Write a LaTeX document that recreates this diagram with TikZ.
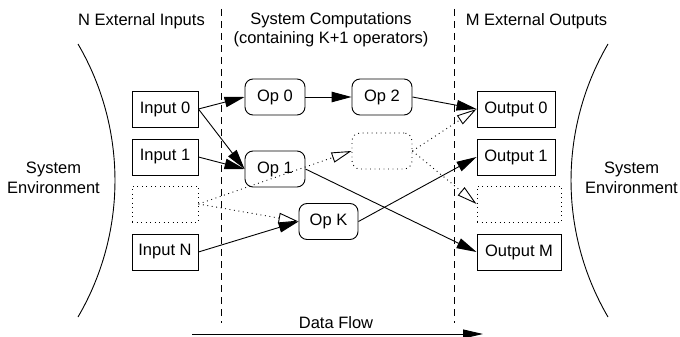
\documentclass[tikz,border=0pt]{standalone}
\usepackage{fontspec}
\setmainfont{Liberation Sans}
\usetikzlibrary{arrows.meta}
\begin{document}
\begin{tikzpicture}[x=1pt,y=-1pt,
  txt/.style={font=\fontsize{16.5}{19.5}\selectfont, inner sep=0pt, align=center},
  sqbox/.style={txt, draw, line width=0.9pt, minimum height=36pt},
  opbox/.style={txt, draw, line width=0.9pt, rounded corners=8pt, minimum width=60pt, minimum height=36pt},
  dotbox/.style={draw, line width=0.9pt, dash pattern=on 0.9pt off 3.6pt, minimum height=36pt},
  flow/.style={line width=0.9pt, -{Triangle[length=20pt,width=10.5pt]}},
  ghost/.style={line width=0.9pt, dash pattern=on 0.9pt off 3.6pt, -{Triangle[open,length=20pt,width=10.5pt,line width=0.9pt,fill=white]}},
  divider/.style={line width=0.8pt, dash pattern=on 7pt off 5pt},
  env/.style={line width=0.9pt}]
\useasboundingbox (0,0) rectangle (680,337);

% dividers
\coordinate (d1t) at (221,9);
\coordinate (d1b) at (221,323);
\coordinate (d2t) at (454,9);
\coordinate (d2b) at (454,323);
\draw[divider] (d1t) -- (d1b);
\draw[divider] (d2t) -- (d2b);

% environment arcs
\coordinate (la) at (78,44);
\coordinate (lb) at (78,317);
\coordinate (ra) at (608,44);
\coordinate (rb) at (608,317);
\draw[env] (la) .. controls (127.3,128.3) and (127.3,232.7) .. (lb);
\draw[env] (ra) .. controls (558.7,128.3) and (558.7,232.7) .. (rb);

% headings
\node[txt] (hin) at (141.5,21) {N External Inputs};
\node[txt] (hsys) at (331,29.5) {System Computations\\(containing K+1 operators)};
\node[txt] (hout) at (536.5,21) {M External Outputs};
\node[txt] (envl) at (53.5,178) {System\\Environment};
\node[txt] (envr) at (631.5,178) {System\\Environment};

% inputs
\node[sqbox, minimum width=66pt] (in0) at (165,109) {Input 0};
\node[sqbox, minimum width=66pt] (in1) at (165,157) {Input 1};
\node[dotbox, minimum width=66pt] (inx) at (165,204) {};
\node[sqbox, minimum width=66pt] (inN) at (165,252) {Input N};

% operators
\node[opbox] (op0) at (275,97) {Op 0};
\node[opbox] (op2) at (382,97) {Op 2};
\node[opbox] (op1) at (275,169) {Op 1};
\node[opbox, minimum width=59pt] (opK) at (328.5,221.5) {Op K};
\node[dotbox, rounded corners=8pt, minimum width=60pt] (opx) at (382,151) {};

% outputs
\node[sqbox, minimum width=78pt] (out0) at (516,109) {Output 0};
\node[sqbox, minimum width=78pt] (out1) at (516,157) {Output 1};
\node[dotbox, minimum width=84pt] (outx) at (519,204) {};
\node[sqbox, minimum width=84pt] (outM) at (519,252) {Output M};

% solid flows
\draw[flow] (in0.east) -- (op0.west);
\draw[flow] (in0.east) -- (op1.west);
\draw[flow] (in1.east) -- (op1.west);
\draw[flow] (op0.east) -- (op2.west);
\draw[flow] (op2.east) -- (out0.west);
\draw[flow] (inN.east) -- (opK.west);
\draw[flow] (opK.east) -- (out1.west);
\draw[flow] (op1.east) -- (outM.west);

% dotted flows
\draw[ghost] (inx.east) -- (opx.west);
\draw[ghost] (inx.east) -- (opK.west);
\draw[ghost] (opx.east) -- (out0.west);
\draw[ghost] (opx.east) -- (outx.west);

% data flow
\node[txt] (dflabel) at (336,323) {Data Flow};
\coordinate (dfa) at (192,334);
\coordinate (dfb) at (483,334);
\draw[line width=0.9pt, -{Triangle[length=20pt,width=9pt]}] (dfa) -- (dfb);
\end{tikzpicture}
\end{document}
